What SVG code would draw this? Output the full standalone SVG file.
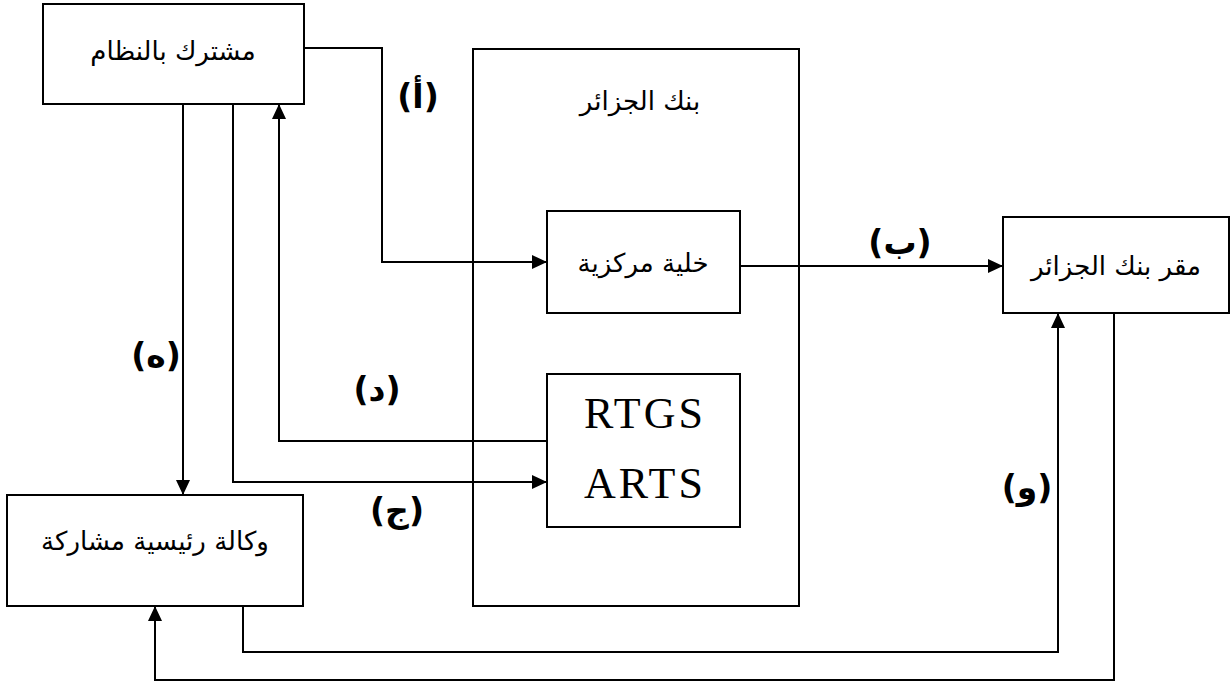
<svg xmlns="http://www.w3.org/2000/svg" width="1232" height="686" viewBox="0 0 1232 686">
<style>
.box{fill:#fff;stroke:#000;stroke-width:2}
.ln{fill:none;stroke:#000;stroke-width:2}
.ar{font-family:"DejaVu Sans",sans-serif;font-size:26px;text-anchor:middle;direction:rtl}
.lb{font-family:"DejaVu Sans",sans-serif;font-size:33px;font-weight:bold;text-anchor:middle}
.en{font-family:"Liberation Serif",serif;font-size:44px;text-anchor:middle;letter-spacing:3px}
</style>
<defs>
<marker id="ah" markerWidth="15" markerHeight="14" refX="15" refY="7" orient="auto" markerUnits="userSpaceOnUse">
<path d="M0,0 L15,7 L0,14 Z" fill="#000"/>
</marker>
</defs>
<g id="bank">
<rect class="box" x="473" y="49" width="326" height="557"/>
<text class="ar" x="640" y="110">بنك الجزائر</text>
</g>
<g id="subscriber">
<rect class="box" x="43" y="4" width="261" height="100"/>
<text class="ar" x="173" y="60">مشترك بالنظام</text>
</g>
<g id="central-cell">
<rect class="box" x="547" y="211" width="193" height="102"/>
<text class="ar" x="643" y="272">خلية مركزية</text>
</g>
<g id="rtgs">
<rect class="box" x="547" y="374" width="193" height="153"/>
<text class="en" x="645" y="428">RTGS</text>
<text class="en" x="645" y="498">ARTS</text>
</g>
<g id="hq">
<rect class="box" x="1003" y="217" width="226" height="96"/>
<text class="ar" x="1116" y="275">مقر بنك الجزائر</text>
</g>
<g id="agency">
<rect class="box" x="7" y="495" width="296" height="111"/>
<text class="ar" x="155" y="550">وكالة رئيسية مشاركة</text>
</g>
<g id="connectors">
<polyline class="ln" points="304,48 382,48 382,262 547,262" marker-end="url(#ah)"/>
<polyline class="ln" points="740,266 1003,266" marker-end="url(#ah)"/>
<polyline class="ln" points="233,104 233,482 547,482" marker-end="url(#ah)"/>
<polyline class="ln" points="547,441 279,441 279,104" marker-end="url(#ah)"/>
<polyline class="ln" points="183,104 183,495" marker-end="url(#ah)"/>
<polyline class="ln" points="243,606 243,652 1058,652 1058,313" marker-end="url(#ah)"/>
<polyline class="ln" points="1114,313 1114,680 155,680 155,606" marker-end="url(#ah)"/>
</g>
<g id="labels">
<text class="lb" x="418" y="108">(أ)</text>
<text class="lb" x="900" y="254">(ب)</text>
<text class="lb" x="397" y="522">(ج)</text>
<text class="lb" x="377" y="401">(د)</text>
<text class="lb" x="156" y="367">(ه)</text>
<text class="lb" x="1027" y="499">(و)</text>
</g>
</svg>
